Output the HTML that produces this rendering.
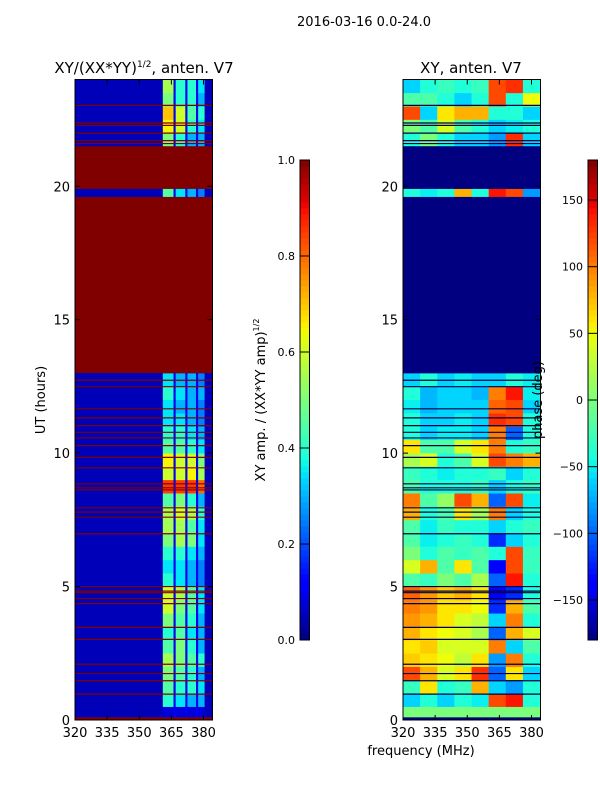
<!DOCTYPE html>
<html><head><meta charset="utf-8">
<style>
html,body{margin:0;padding:0;background:#fff;}
svg{display:block;font-family:"DejaVu Sans","Liberation Sans",sans-serif;}
</style></head>
<body>
<svg id="chart" width="600" height="800" viewBox="0 0 600 800" xmlns="http://www.w3.org/2000/svg">
<rect x="0" y="0" width="600" height="800" fill="#fff"/>
<text x="364" y="26" font-size="13" text-anchor="middle">2016-03-16 0.0-24.0</text>
<text x="144" y="73" font-size="15" text-anchor="middle">XY/(XX*YY)<tspan font-size="9" dy="-6">1/2</tspan><tspan dy="6">, anten. V7</tspan></text>
<text x="471" y="73" font-size="15" text-anchor="middle">XY, anten. V7</text>
<text transform="translate(45,400) rotate(-90)" font-size="13" text-anchor="middle">UT (hours)</text>
<text x="421" y="755" font-size="13" text-anchor="middle">frequency (MHz)</text>
<text transform="translate(265,400) rotate(-90)" font-size="13" text-anchor="middle">XY amp. / (XX*YY amp)<tspan font-size="8" dy="-6">1/2</tspan></text>
<g id="left"></g>
<g id="right"></g>
<g id="cb1"></g>
<g id="cb2"></g>
<text transform="translate(542,400) rotate(-90)" font-size="13" text-anchor="middle">phase (deg)</text>
</svg>
<script>
// ---- data ----
const rowHours = 0.5;
const freqTicks = [320, 335, 350, 365, 380];
const utTicks = [0, 5, 10, 15, 20];
const ampTicks = [0.0, 0.2, 0.4, 0.6, 0.8, 1.0];
const ampTickLabels = ["0.0", "0.2", "0.4", "0.6", "0.8", "1.0"];
const phaseTicks = [150, 100, 50, 0, -50, -100, -150];
const phaseTickLabels = ["150", "100", "50", "0", "\u221250", "\u2212100", "\u2212150"];
const ampBackground = 0.05;
const ampGap = 0.1;
const stripeStart = [361, 367, 372.5, 377.5];
const stripeEnd = [366, 371.5, 376.5, 380.5];
const ampRows = [
[0.08,0.08,0.08,0.08],[0.4,0.35,0.3,0.3],[0.45,0.4,0.4,0.35],[0.5,0.45,0.4,0.3],
[0.55,0.5,0.45,0.4],[0.45,0.5,0.4,0.3],[0.4,0.45,0.35,0.3],[0.5,0.45,0.4,0.3],
[0.6,0.5,0.45,0.35],[0.6,0.55,0.45,0.35],[0.4,0.35,0.3,0.25],[0.35,0.35,0.3,0.25],
[0.4,0.4,0.35,0.3],[0.5,0.55,0.5,0.35],[0.55,0.55,0.45,0.35],[0.55,0.6,0.55,0.4],
[0.45,0.5,0.4,0.3],[0.85,0.85,0.85,0.8],[0.6,0.6,0.65,0.55],[0.65,0.6,0.6,0.5],
[0.45,0.45,0.4,0.35],[0.4,0.4,0.35,0.3],[0.35,0.35,0.3,0.25],[0.35,0.3,0.3,0.25],
[0.4,0.35,0.3,0.3],[0.35,0.3,0.3,0.25],
[1,1,1,1],[1,1,1,1],[1,1,1,1],[1,1,1,1],[1,1,1,1],[1,1,1,1],[1,1,1,1],
[1,1,1,1],[1,1,1,1],[1,1,1,1],[1,1,1,1],[1,1,1,1],[1,1,1,1],
[0.45,0.35,0.3,0.25],[1,1,1,1],[1,1,1,1],[1,1,1,1],
[0.5,0.4,0.3,0.3],[0.65,0.6,0.4,0.35],[0.7,0.6,0.45,0.4],[0.5,0.4,0.4,0.3],[0.55,0.4,0.4,0.35]
];
const phaseBins = [320, 328, 336, 344, 352, 360, 368, 376];
const phaseRows = [
[0,0,0,0,0,0,0,0],[-60,-40,-60,-40,-50,120,140,-40],[-30,60,-40,-30,80,-60,-80,-40],[120,80,40,60,130,-100,60,-60],
[70,60,50,30,60,-80,100,-40],[60,70,40,40,40,100,-60,-20],[80,60,50,40,20,-100,80,40],[90,80,60,40,30,-60,100,-40],
[100,90,60,60,50,-120,80,-20],[110,90,70,80,60,-140,-120,-40],[-20,-30,0,-20,20,-100,140,-40],[40,80,-20,60,-20,-140,120,-30],
[0,-40,-20,-30,-20,-40,120,-30],[-20,-50,-40,-30,-40,-120,-60,-40],[-20,-50,-30,-40,-40,-60,-40,-30],[80,-40,-20,60,20,100,-60,-40],
[100,-20,10,120,80,-100,120,-50],[-20,-40,-40,-40,-30,-60,-40,-30],[-30,-40,-50,-40,-40,-30,-60,-40],[20,40,-40,-20,40,120,100,80],
[60,-20,-20,40,60,100,-40,-30],[-40,-60,-50,-50,-60,100,-100,-40],[-40,-60,-60,-50,-60,130,120,-40],[-50,-70,-60,-60,-60,110,120,-60],
[-40,-70,-60,-60,-70,100,140,-50],[-60,-40,-60,-50,-60,-60,-40,-50],
[-180,-180,-180,-180,-180,-180,-180,-180],[-180,-180,-180,-180,-180,-180,-180,-180],[-180,-180,-180,-180,-180,-180,-180,-180],
[-180,-180,-180,-180,-180,-180,-180,-180],[-180,-180,-180,-180,-180,-180,-180,-180],[-180,-180,-180,-180,-180,-180,-180,-180],
[-180,-180,-180,-180,-180,-180,-180,-180],[-180,-180,-180,-180,-180,-180,-180,-180],[-180,-180,-180,-180,-180,-180,-180,-180],
[-180,-180,-180,-180,-180,-180,-180,-180],[-180,-180,-180,-180,-180,-180,-180,-180],[-180,-180,-180,-180,-180,-180,-180,-180],
[-180,-180,-180,-180,-180,-180,-180,-180],
[-40,-50,-40,80,-40,140,120,-80],
[-180,-180,-180,-180,-180,-180,-180,-180],[-180,-180,-180,-180,-180,-180,-180,-180],[-180,-180,-180,-180,-180,-180,-180,-180],
[-40,0,-40,-60,-60,-80,130,-60],[0,-20,40,-20,-40,-60,-50,-40],[120,-60,60,80,80,-40,-40,-60],
[-20,-20,-40,-60,-40,120,-40,50],[-60,-40,-30,-40,-30,120,130,-40]
];
const flagStart = [0, 13.0, 19.9];
const flagEnd = [0.1, 19.6, 21.5];
const flagLines = [0.97,1.47,1.74,2.09,3.02,3.47,4.36,4.55,4.77,4.83,5.0,6.98,7.6,7.79,7.95,8.62,8.7,8.85,9.45,9.84,10.28,10.57,10.78,11.03,11.32,11.66,12.49,12.73,21.6,21.71,21.99,22.28,22.37,23.03];

// ---- helpers ----
const NS = "http://www.w3.org/2000/svg";
function seg(pts,t){
  for(let i=1;i<pts.length;i++){
    if(t<=pts[i][0]){const a=pts[i-1],b=pts[i];return a[1]+(b[1]-a[1])*(t-a[0])/(b[0]-a[0]);}
  }
  return pts[pts.length-1][1];
}
const JR=[[0,0],[0.35,0],[0.66,1],[0.89,1],[1,0.5]];
const JG=[[0,0],[0.125,0],[0.375,1],[0.64,1],[0.91,0],[1,0]];
const JB=[[0,0.5],[0.11,1],[0.34,1],[0.65,0],[1,0]];
function jet(t){
  t=Math.max(0,Math.min(1,t));
  return `rgb(${Math.round(seg(JR,t)*255)},${Math.round(seg(JG,t)*255)},${Math.round(seg(JB,t)*255)})`;
}
function mk(parent, tag, attrs){
  const el=document.createElementNS(NS,tag);
  for(const k in attrs) el.setAttribute(k,attrs[k]);
  parent.appendChild(el); return el;
}
const FMIN=320, FMAX=384.2, UMIN=0, UMAX=24;
const TOP=79.5, BOT=720;
function yScale(u){return BOT-(u-UMIN)/(UMAX-UMIN)*(BOT-TOP);}
function makeX(x0,x1){return f=>x0+(f-FMIN)/(FMAX-FMIN)*(x1-x0);}

function axes(g,x0,x1,xs){
  utTicks.forEach(u=>{
    const y=yScale(u);
    const t1=mk(g,'line',{x1:x0,x2:x0+5,y1:y,y2:y,stroke:'#000'});
    
    
    mk(g,'line',{x1:x1-5,x2:x1,y1:y,y2:y,stroke:'#000'});
    const tx=mk(g,'text',{x:x0-5,y:y+5,'font-size':13,'text-anchor':'end'});
    tx.textContent=u;
    
    
  });
  freqTicks.forEach(f=>{
    const x=xs(f);
    mk(g,'line',{x1:x,x2:x,y1:BOT,y2:BOT-5,stroke:'#000'});
    mk(g,'line',{x1:x,x2:x,y1:TOP,y2:TOP+5,stroke:'#000'});
    const tx=mk(g,'text',{x:x,y:BOT+17,'font-size':13,'text-anchor':'middle'});
    tx.textContent=f;
    
    
  });
  const fr=mk(g,'rect',{x:x0,y:TOP,width:x1-x0,height:BOT-TOP,fill:'none',stroke:'#000','stroke-width':1});
  
  
}

// ---- left panel ----
(function(){
  const g=document.getElementById('left');
  const x0=75,x1=212.5,xs=makeX(x0,x1);
  const bg=mk(g,'rect',{x:x0,y:TOP,width:x1-x0,height:BOT-TOP,fill:jet(ampBackground)});
  
  
  mk(g,'rect',{x:xs(stripeStart[0]),y:TOP,width:xs(stripeEnd[3])-xs(stripeStart[0]),height:BOT-TOP,fill:jet(ampGap)});
  ampRows.forEach((row,i)=>{
    const ya=yScale(i*rowHours), yb=yScale((i+1)*rowHours);
    row.forEach((v,j)=>{
      const c=mk(g,'rect',{x:xs(stripeStart[j]),y:yb,width:xs(stripeEnd[j])-xs(stripeStart[j]),height:ya-yb+0.3,fill:jet(v)});
      
      
    });
  });
  flagStart.forEach((s,i)=>{
    const r=mk(g,'rect',{x:x0,y:yScale(flagEnd[i]),width:x1-x0,height:yScale(s)-yScale(flagEnd[i]),fill:jet(1)});
    
    
  });
  flagLines.forEach(u=>{
    const l=mk(g,'line',{x1:x0,x2:x1,y1:yScale(u),y2:yScale(u),stroke:jet(1),'stroke-width':1.2});
    
    
  });
  axes(g,x0,x1,xs);
})();

// ---- right panel ----
(function(){
  const g=document.getElementById('right');
  const x0=403,x1=540.5,xs=makeX(x0,x1);
  phaseRows.forEach((row,i)=>{
    const ya=yScale(i*rowHours), yb=yScale((i+1)*rowHours);
    row.forEach((v,j)=>{
      const fa=phaseBins[j], fb=j+1<phaseBins.length?phaseBins[j+1]:FMAX;
      const c=mk(g,'rect',{x:xs(fa),y:yb,width:xs(fb)-xs(fa)+0.3,height:ya-yb+0.3,fill:jet((v+180)/360)});
      
      
    });
  });
  flagStart.forEach((s,i)=>{
    const r=mk(g,'rect',{x:x0,y:yScale(flagEnd[i]),width:x1-x0,height:yScale(s)-yScale(flagEnd[i]),fill:jet(0)});
    
    
  });
  flagLines.forEach(u=>{
    const l=mk(g,'line',{x1:x0,x2:x1,y1:yScale(u),y2:yScale(u),stroke:'#000040','stroke-width':1.2});
    
    
  });
  axes(g,x0,x1,xs);
})();

// ---- colorbars ----
function colorbar(id,x,w,vmin,vmax,ticks,labels,labelX){
  const g=document.getElementById(id);
  const y0=160,y1=640,n=80;
  for(let k=0;k<n;k++){
    mk(g,'rect',{x:x,y:y1-(k+1)*(y1-y0)/n,width:w,height:(y1-y0)/n+0.5,fill:jet((k+0.5)/n)});
  }
  mk(g,'rect',{x:x,y:y0,width:w,height:y1-y0,fill:'none',stroke:'#000'});
  ticks.forEach((v,i)=>{
    const y=y1-(v-vmin)/(vmax-vmin)*(y1-y0);
    mk(g,'line',{x1:x,x2:x+w,y1:y,y2:y,stroke:'#000'});
    const t=mk(g,'text',{x:labelX,y:y+4,'font-size':11,'text-anchor':'end'});
    t.textContent=labels[i];
    
    
  });
}
colorbar('cb1',300,9.5,0,1,ampTicks,ampTickLabels,295);
colorbar('cb2',588,9.5,-180,180,phaseTicks,phaseTickLabels,583);
</script>
</body></html>
